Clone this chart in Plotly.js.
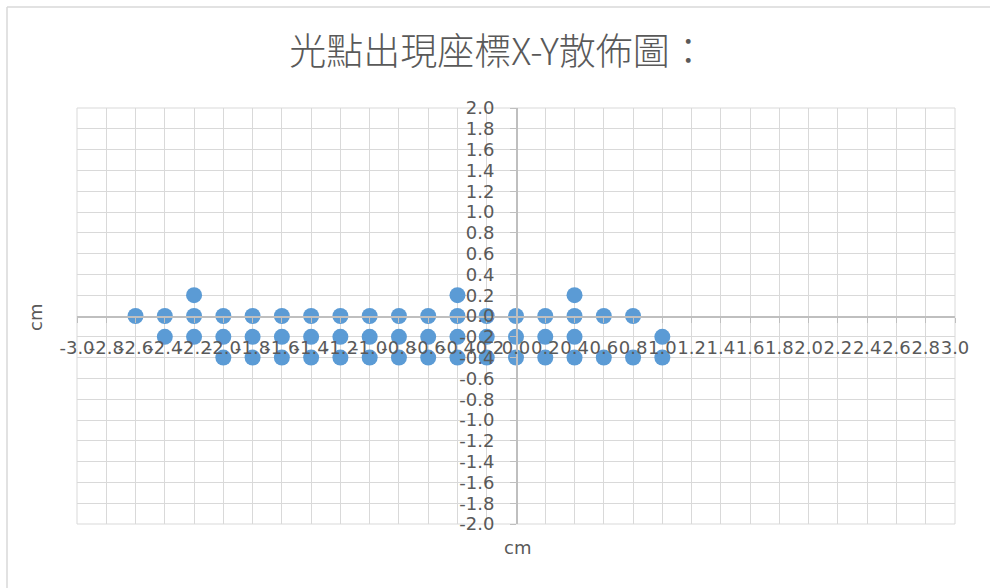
<!DOCTYPE html>
<html>
<head>
<meta charset="utf-8">
<script src="https://cdn.plot.ly/plotly-3.0.1.min.js"></script>
<style>
html,body{margin:0;padding:0;background:#fff;}
#chart{width:990px;height:588px;}
</style>
</head>
<body>
<div id="chart"></div>
<script>
// Data (cm)
const rowY02 = [-2.2, -0.4, 0.4];
const rowY00 = [-2.6, -2.4, -2.2, -2.0, -1.8, -1.6, -1.4, -1.2, -1.0, -0.8, -0.6, -0.4, -0.2, 0.0, 0.2, 0.4, 0.6, 0.8];
const rowYm02 = [-2.4, -2.2, -2.0, -1.8, -1.6, -1.4, -1.2, -1.0, -0.8, -0.6, -0.4, -0.2, 0.0, 0.2, 0.4, 1.0];
const rowYm04 = [-2.0, -1.8, -1.6, -1.4, -1.2, -1.0, -0.8, -0.6, -0.4, -0.2, 0.0, 0.2, 0.4, 0.6, 0.8, 1.0];
const rowLevels = [0.2, 0.0, -0.2, -0.4];
const titleText = '光點出現座標X-Y散佈圖：';
const xTitle = 'cm';
const yTitle = 'cm';

const rows = [rowY02, rowY00, rowYm02, rowYm04];
const xs = [], ys = [];
rows.forEach((r, i) => r.forEach(v => { xs.push(v); ys.push(rowLevels[i]); }));

const tickFont = {family: 'DejaVu Sans, sans-serif', size: 18, color: '#595959'};
const xTicks = [], yTicks = [];
for (let i = 0; i <= 30; i++) xTicks.push(Math.round((-3 + i * 0.2) * 10) / 10);
for (let i = 0; i <= 20; i++) yTicks.push(Math.round((-2 + i * 0.2) * 10) / 10);

const trace = {
  x: xs, y: ys, type: 'scatter', mode: 'markers',
  marker: {size: 16, color: '#5B9BD5', line: {width: 0}},
  hoverinfo: 'x+y'
};

const L = 77, T = 108, W = 878, H = 416;
function px(xp) { return (xp - L) / W; }
function py(yp) { return (T + H - yp) / H; }

const layout = {
  width: 990, height: 588,
  margin: {l: L, r: 990 - L - W, t: T, b: 588 - T - H},
  paper_bgcolor: '#ffffff', plot_bgcolor: '#ffffff',
  showlegend: false,
  title: {text: titleText, x: 498 / 990, xref: 'container', xanchor: 'center', y: 1 - 52 / 588, yanchor: 'middle',
          font: {family: 'Noto Sans CJK TC, sans-serif', size: 37, color: '#595959', weight: 300}},
  xaxis: {
    range: [-3, 3], tickmode: 'array', tickvals: xTicks,
    ticktext: xTicks.map(v => v.toFixed(1)),
    showgrid: true, gridcolor: '#d9d9d9', gridwidth: 1,
    zeroline: false, showline: true, linecolor: '#bfbfbf', linewidth: 1.5,
    ticks: 'outside', ticklen: 5, tickcolor: '#bfbfbf',
    anchor: 'free', position: 0.5, ticklabelstandoff: 10, tickangle: 0,
    tickfont: tickFont, fixedrange: true
  },
  yaxis: {
    range: [-2, 2], tickmode: 'array', tickvals: yTicks,
    ticktext: yTicks.map(v => v.toFixed(1)),
    showgrid: true, gridcolor: '#d9d9d9', gridwidth: 1,
    zeroline: false, showline: true, linecolor: '#bfbfbf', linewidth: 1.5,
    ticks: 'outside', ticklen: 6, tickcolor: '#bfbfbf',
    anchor: 'free', position: 0.5, ticklabelstandoff: 12,
    tickfont: tickFont, fixedrange: true
  },
  shapes: [
    {type: 'rect', xref: 'paper', yref: 'paper', x0: 0, x1: 1, y0: 0, y1: 1,
     line: {color: '#d9d9d9', width: 1}, layer: 'below'},
    {type: 'line', xref: 'paper', yref: 'paper', x0: px(7), x1: px(995), y0: py(7), y1: py(7),
     line: {color: '#d9d9d9', width: 1.5}},
    {type: 'line', xref: 'paper', yref: 'paper', x0: px(7), x1: px(7), y0: py(7), y1: py(595),
     line: {color: '#d9d9d9', width: 1.5}}
  ],
  annotations: [
    {text: xTitle, xref: 'paper', yref: 'paper', x: px(517), y: py(547), xanchor: 'center', yanchor: 'middle',
     showarrow: false, font: {family: 'DejaVu Sans, sans-serif', size: 18, color: '#595959'}},
    {text: yTitle, xref: 'paper', yref: 'paper', x: px(35), y: py(318), xanchor: 'center', yanchor: 'middle',
     textangle: -90, showarrow: false, font: {family: 'DejaVu Sans, sans-serif', size: 18, color: '#595959'}}
  ]
};

Plotly.newPlot('chart', [trace], layout, {displayModeBar: false, staticPlot: true});
</script>
</body>
</html>
